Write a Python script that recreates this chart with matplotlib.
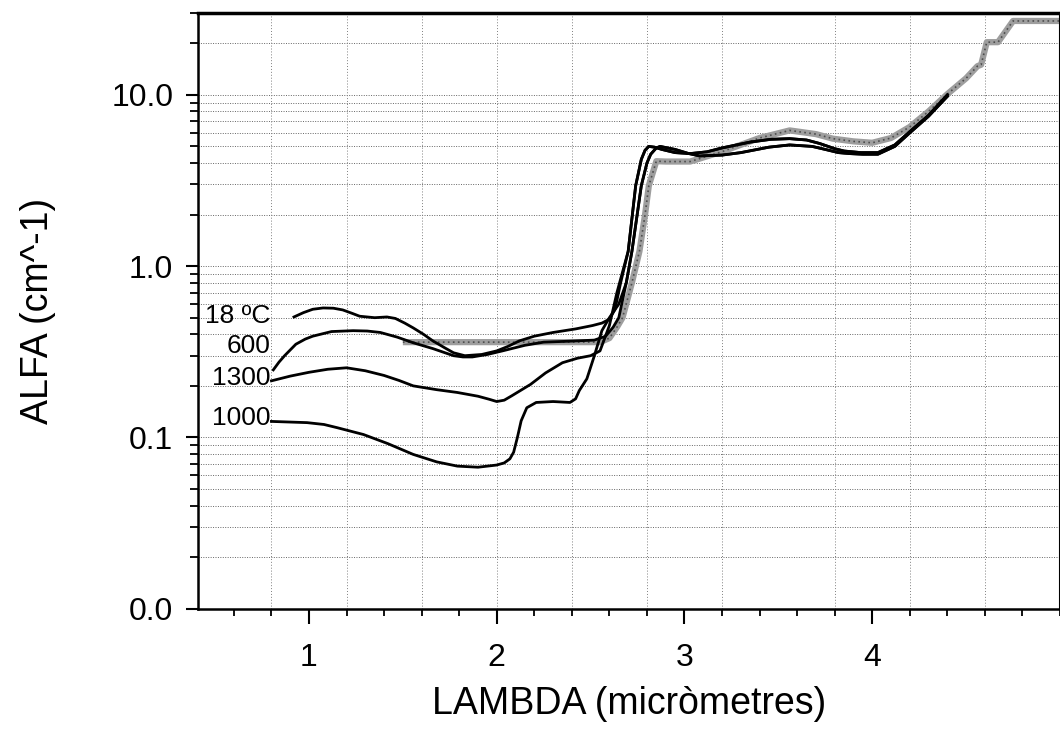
import numpy as np
import matplotlib
matplotlib.use("Agg")
import matplotlib.pyplot as plt
from matplotlib.ticker import FixedLocator, MultipleLocator, FuncFormatter, NullFormatter

plt.rcParams['font.family'] = ['Liberation Sans', 'DejaVu Sans']

# 18 ºC
x_18 = [0.92, 0.97, 1.02, 1.075, 1.13, 1.18, 1.23, 1.27, 1.35, 1.415, 1.46, 1.51, 1.555, 1.61,
        1.66, 1.72, 1.77, 1.83, 1.92, 2.0, 2.06, 2.12, 2.2, 2.3, 2.42, 2.51, 2.56, 2.6, 2.63,
        2.66, 2.70, 2.74, 2.77, 2.79, 2.81, 2.84, 2.88, 2.95, 3.03, 3.12, 3.2, 3.35, 3.46, 3.56,
        3.65, 3.72, 3.8, 3.85, 3.94, 4.03, 4.12, 4.2, 4.3, 4.4]
y_18 = [0.505, 0.535, 0.56, 0.57, 0.568, 0.555, 0.53, 0.51, 0.50, 0.505, 0.495, 0.465, 0.436,
        0.40, 0.366, 0.335, 0.312, 0.30, 0.305, 0.32, 0.34, 0.366, 0.39, 0.41, 0.43, 0.45, 0.465,
        0.49, 0.56, 0.8, 1.22, 2.95, 4.2, 4.75, 5.0, 4.95, 4.8, 4.6, 4.54, 4.65, 4.9, 5.3, 5.5,
        5.55, 5.45, 5.2, 4.85, 4.7, 4.6, 4.6, 5.1, 6.1, 7.6, 10.0]

# 600
x_600 = [0.81, 0.84, 0.87, 0.93, 0.98, 1.02, 1.12, 1.235, 1.31, 1.38, 1.47, 1.555, 1.66, 1.77,
         1.82, 1.87, 1.95, 2.03, 2.15, 2.25, 2.4, 2.52, 2.58, 2.62, 2.65, 2.69, 2.72, 2.77, 2.8,
         2.82, 2.85, 2.87, 2.91, 2.95, 3.02, 3.08, 3.2, 3.3, 3.45, 3.56, 3.68, 3.75, 3.82, 3.88,
         3.95, 4.03, 4.12, 4.2, 4.3, 4.4]
y_600 = [0.248, 0.275, 0.3, 0.35, 0.375, 0.39, 0.415, 0.42, 0.418, 0.41, 0.385, 0.357, 0.33,
         0.30, 0.295, 0.295, 0.305, 0.32, 0.345, 0.36, 0.365, 0.37, 0.39, 0.44, 0.5, 0.8, 1.22,
         2.95, 4.0, 4.5, 4.9, 5.0, 4.9, 4.8, 4.55, 4.4, 4.45, 4.6, 4.95, 5.1, 5.0, 4.8, 4.6, 4.54,
         4.5, 4.5, 5.0, 6.0, 7.5, 9.8]

# 1300
x_1300 = [0.80, 0.9, 1.0, 1.1, 1.20, 1.3, 1.4, 1.48, 1.555, 1.68, 1.79, 1.9, 1.96, 2.0, 2.04,
          2.08, 2.18, 2.26, 2.35, 2.43, 2.5, 2.55, 2.60, 2.64, 2.70, 2.74, 2.77, 2.79, 2.81, 2.84,
          2.88, 2.95, 3.03, 3.12, 3.2, 3.35, 3.46, 3.56, 3.65, 3.72, 3.8, 3.85, 3.94, 4.03, 4.12,
          4.2, 4.3, 4.4]
y_1300 = [0.214, 0.228, 0.24, 0.25, 0.255, 0.245, 0.23, 0.215, 0.20, 0.19, 0.183, 0.174, 0.167,
          0.162, 0.165, 0.175, 0.204, 0.238, 0.273, 0.29, 0.30, 0.32, 0.45, 0.7, 1.22, 2.95, 4.2,
          4.75, 5.0, 4.95, 4.8, 4.6, 4.54, 4.65, 4.9, 5.3, 5.5, 5.55, 5.45, 5.2, 4.85, 4.7, 4.6,
          4.6, 5.1, 6.1, 7.6, 10.0]

# 1000
x_1000 = [0.80, 0.99, 1.08, 1.15, 1.29, 1.42, 1.555, 1.68, 1.79, 1.9, 2.0, 2.04, 2.07, 2.09, 2.11,
          2.13, 2.16, 2.21, 2.3, 2.39, 2.42, 2.44, 2.48, 2.52, 2.56, 2.60, 2.65, 2.69, 2.72, 2.77,
          2.8, 2.82, 2.85, 2.87, 2.91, 2.95, 3.02, 3.08, 3.2, 3.3, 3.45, 3.56, 3.68, 3.75, 3.82,
          3.88, 3.95, 4.03, 4.12, 4.2, 4.3, 4.4]
y_1000 = [0.124, 0.122, 0.119, 0.114, 0.104, 0.092, 0.0796, 0.072, 0.068, 0.067, 0.069, 0.071,
          0.075, 0.082, 0.10, 0.125, 0.149, 0.16, 0.162, 0.16, 0.168, 0.188, 0.22, 0.3, 0.42, 0.5,
          0.6, 0.8, 1.22, 2.95, 4.0, 4.5, 4.9, 5.0, 4.9, 4.8, 4.55, 4.4, 4.45, 4.6, 4.95, 5.1, 5.0,
          4.8, 4.6, 4.54, 4.5, 4.5, 5.0, 6.0, 7.5, 9.8]

# grey reference curve
x_ref = [1.50, 1.8, 2.1, 2.4, 2.55, 2.60, 2.64, 2.67, 2.72, 2.76, 2.79, 2.81, 2.85, 2.9, 3.03,
         3.2, 3.4, 3.56, 3.7, 3.79, 3.9, 4.0, 4.1, 4.2, 4.3, 4.40, 4.5, 4.56, 4.58, 4.61, 4.67,
         4.75, 5.0]
y_ref = [0.36, 0.36, 0.36, 0.36, 0.36, 0.38, 0.44, 0.5, 0.8, 1.22, 2.0, 2.95, 4.1, 4.08, 4.08,
         4.66, 5.6, 6.2, 5.9, 5.55, 5.35, 5.25, 5.6, 6.5, 8.0, 10.1, 12.5, 14.7, 15.0, 20.3, 20.3,
         27, 27]

labels = ['18 ºC', '600', '1300', '1000']
label_y = [0.515, 0.34, 0.222, 0.13]

grid_x = [0.8, 1.2, 1.6, 2.0, 2.4, 2.8, 3.2, 3.8, 4.2, 4.6]

fig = plt.figure(figsize=(10.6, 7.29), dpi=100)
ax = fig.add_axes([0.187, 0.165, 0.813, 0.817])
ax.set_yscale('log')
ax.set_xlim(0.41, 5.0)
ax.set_ylim(0.01, 30)

# grid
minor_y = [m * 10.0 ** e for e in range(-2, 2) for m in range(2, 10)]
for v in minor_y + [0.1, 1.0, 10.0]:
    if v < 30:
        ax.axhline(v, color='0.4', ls=(0, (1, 1.5)), lw=0.7, zorder=0)
for v in grid_x:
    ax.axvline(v, color='0.5', ls=(0, (1, 2)), lw=0.7, zorder=0)

ax.plot(x_ref, y_ref, color='0.62', lw=4.5, solid_capstyle='butt', zorder=2)
ax.plot(x_ref, y_ref, color='0.3', lw=1.2, ls=(0, (1, 2)), zorder=2)

for xs, ys in [(x_18, y_18), (x_600, y_600), (x_1300, y_1300), (x_1000, y_1000)]:
    ax.plot(xs, ys, color='black', lw=2.0, zorder=3)

for lab, ly in zip(labels, label_y):
    ax.text(0.795, ly, lab, ha='right', va='center', fontsize=19)

ax.yaxis.set_major_locator(FixedLocator([0.01, 0.1, 1.0, 10.0]))
ax.yaxis.set_major_formatter(FuncFormatter(lambda v, p: f'{v:.1f}'))
ax.yaxis.set_minor_locator(FixedLocator(minor_y))
ax.yaxis.set_minor_formatter(NullFormatter())
ax.xaxis.set_major_locator(FixedLocator([1, 2, 3, 4]))
ax.xaxis.set_minor_locator(MultipleLocator(0.2))

ax.tick_params(axis='y', which='major', direction='out', length=9, width=1.5, labelsize=23, pad=9)
ax.tick_params(axis='y', which='minor', direction='out', length=6, width=1.3)
ax.tick_params(axis='x', which='major', direction='out', length=11, width=1.5, labelsize=23, pad=14)
ax.tick_params(axis='x', which='minor', direction='out', length=5, width=1.3)

for s in ['left', 'bottom']:
    ax.spines[s].set_linewidth(1.8)
ax.spines['top'].set_linewidth(2.5)
ax.spines['right'].set_linewidth(1.5)

ax.set_xlabel('LAMBDA (micròmetres)', fontsize=27, labelpad=9)
ax.set_ylabel('ALFA (cm^-1)', fontsize=27, labelpad=40)

fig.savefig('out.png', dpi=100)
